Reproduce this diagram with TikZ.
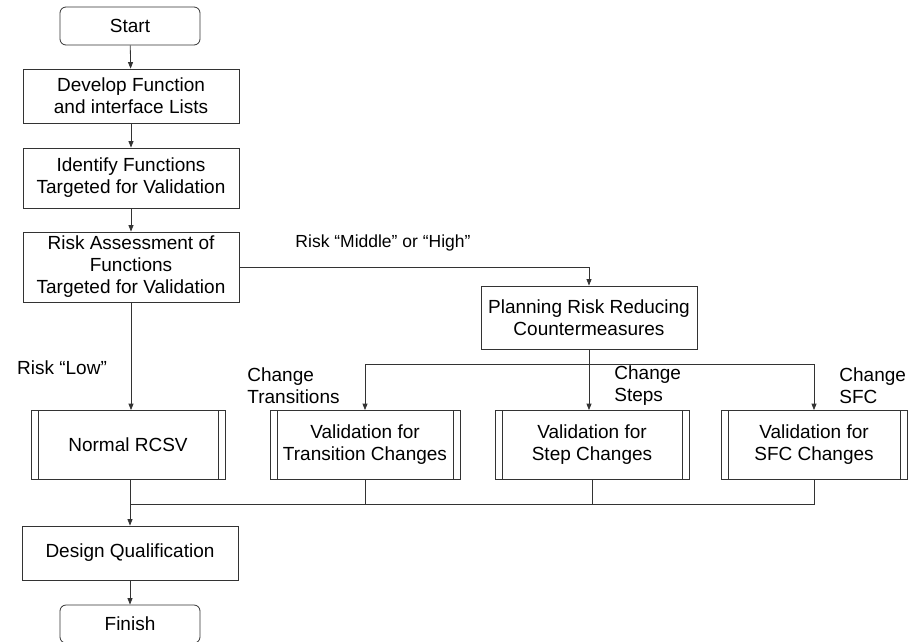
\documentclass[tikz,border=0pt]{standalone}
\usepackage{fontspec}
\setmainfont{Liberation Sans}
\usetikzlibrary{arrows.meta}

\begin{document}
\begin{tikzpicture}[x=1pt, y=-1pt, line width=0.8pt,
txt/.style={font=\fontsize{19}{22}\selectfont},
terminal/.style={txt, draw=black!80, rounded corners=6pt, minimum width=140pt, minimum height=38pt},
proc/.style={txt, draw=black!80, align=center, minimum width=216pt, minimum height=54pt},
predef/.style={txt, draw=black!80, align=center, minimum height=69pt,
  path picture={\draw[black!80] ([xshift=7pt]path picture bounding box.north west) -- ([xshift=7pt]path picture bounding box.south west)
  ([xshift=-7pt]path picture bounding box.north east) -- ([xshift=-7pt]path picture bounding box.south east);}},
lbl/.style={txt, align=left, inner sep=0pt},
arr/.style={draw=black!80, -{Triangle[length=6.5pt,width=5pt]}},
con/.style={draw=black!80}]

\useasboundingbox (0,0) rectangle (908,641);

% main column
\node[terminal] (start) at (130,26) {Start};
\node[proc] (develop) at (131,96) {Develop Function\\and interface Lists};
\node[proc, minimum height=60pt] (identify) at (131,178) {Identify Functions\\Targeted for Validation};
\node[proc, minimum height=70pt] (risk) at (131,267) {Risk Assessment of\\Functions\\Targeted for Validation};
\node[predef, minimum width=194pt] (normal) at (128,445) {Normal RCSV};
\node[proc] (design) at (130,553) {Design Qualification};
\node[terminal] (finish) at (130,624) {Finish};

% right branch
\node[proc, minimum height=63pt] (planning) at (589,317.5) {Planning Risk Reducing\\Countermeasures};
\node[predef, minimum width=190pt] (trans) at (365,445) {Validation for\\Transition Changes};
\node[predef, minimum width=194pt] (stepch) at (592,445) {Validation for\\Step Changes};
\node[predef, minimum width=186pt] (sfc) at (814,445) {Validation for\\SFC Changes};

\coordinate (split) at (589,364);
\coordinate (merge) at (130,504);

% labels
\node[lbl, font=\fontsize{17.5}{21}\selectfont] (lmid) at (383,243) {Risk “Middle” or “High”};
\node[lbl] (llow) at (62,368) {Risk “Low”};
\node[lbl, anchor=west] (ltrans) at (247,386) {Change\\Transitions};
\node[lbl, anchor=west] (lstep) at (614,386) {Change\\Steps};
\node[lbl, anchor=west] (lsfc) at (839,386) {Change\\SFC};

% connectors
\draw[arr] (start) -- (develop);
\draw[arr] (develop) -- (identify);
\draw[arr] (identify) -- (risk);
\draw[arr] (risk.south) -- (risk.south |- normal.north);
\draw[arr] (risk.east) -| (planning.north);
\draw[con] (planning.south) -- (split);
\draw[con] (trans.north |- split) -- (sfc.north |- split);
\draw[arr] (trans.north |- split) -- (trans.north);
\draw[arr] (split) -- (split |- stepch.north);
\draw[arr] (sfc.north |- split) -- (sfc.north);

\draw[con] (normal.south -| merge) -- (merge);
\draw[con] (trans.south) -- (trans.south |- merge);
\draw[con] (stepch.south) -- (stepch.south |- merge);
\draw[con] (sfc.south) -- (sfc.south |- merge) -- (merge);
\draw[arr] (merge) -- (design.north -| merge);
\draw[arr] (design) -- (finish);

\end{tikzpicture}
\end{document}
